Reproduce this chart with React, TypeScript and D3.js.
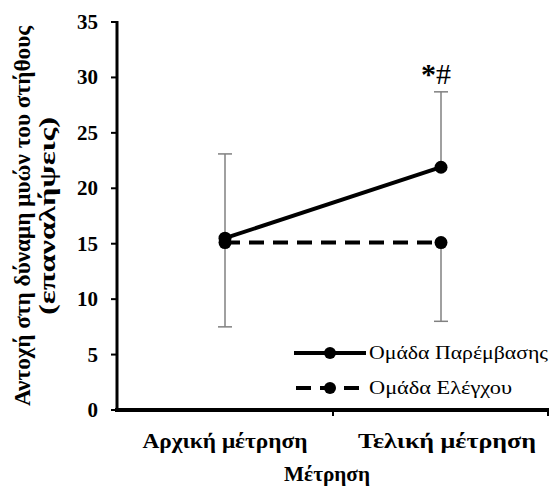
import * as d3 from "d3";

const categories = ["Αρχική μέτρηση", "Τελική μέτρηση"];
const seriesNames = ["Ομάδα Παρέμβασης", "Ομάδα Ελέγχου"];
const interventionValues = [15.5, 21.9];
const controlValues = [15.1, 15.1];
// intervention shows the upper half of its error bar, control the lower half
const interventionErrorUp = [7.6, 6.8];
const controlErrorDown = [7.6, 7.1];
const yTicks = [0, 5, 10, 15, 20, 25, 30, 35];
const yTitleLines = ["Αντοχή στη δύναμη μυών του στήθους", "(επαναλήψεις)"];

export default function App() {
  const width = 551;
  const height = 489;
  const margin = { top: 22, right: 2, bottom: 79, left: 117 };
  const font = "'Times New Roman', 'Liberation Serif', serif";

  const x = d3
    .scaleBand()
    .domain(categories)
    .range([margin.left, width - margin.right]);
  const y = d3
    .scaleLinear()
    .domain([0, 35])
    .range([height - margin.bottom, margin.top]);

  const cx = (c: string) => (x(c) ?? 0) + x.bandwidth() / 2;

  const line = d3
    .line<number>()
    .x((_, i) => cx(categories[i]))
    .y((d) => y(d));

  const series = [
    { name: seriesNames[0], values: interventionValues, dash: "none" },
    { name: seriesNames[1], values: controlValues, dash: "15 9" },
  ];

  // the source image is slightly stretched, so text widths are pinned
  const catWidths = [165, 178];
  const legendWidths = [179, 143];
  const yTitleWidths = [380, 198];

  const y0 = y(0);
  const capW = 7;

  return (
    <svg width={width} height={height} style={{ position: "absolute", left: 0, top: 0 }}>
      <rect width={width} height={height} fill="white" />

      {/* error bars */}
      {categories.map((c, i) => {
        const top = interventionValues[i] + interventionErrorUp[i];
        const bot = controlValues[i] - controlErrorDown[i];
        return (
          <g key={c} stroke="#808080" strokeWidth={1.5}>
            <line x1={cx(c)} x2={cx(c)} y1={y(top)} y2={y(interventionValues[i])} />
            <line x1={cx(c) - capW} x2={cx(c) + capW} y1={y(top)} y2={y(top)} />
            <line x1={cx(c)} x2={cx(c)} y1={y(controlValues[i])} y2={y(bot)} />
            <line x1={cx(c) - capW} x2={cx(c) + capW} y1={y(bot)} y2={y(bot)} />
          </g>
        );
      })}

      {/* series lines */}
      {series.map((s) => (
        <g key={s.name}>
          <path
            d={line(s.values) ?? ""}
            fill="none"
            stroke="black"
            strokeWidth={4}
            strokeDasharray={s.dash}
          />
          {s.values.map((v, i) => (
            <circle key={i} cx={cx(categories[i])} cy={y(v)} r={6.5} fill="black" />
          ))}
        </g>
      ))}

      {/* significance mark */}
      <text
        x={cx(categories[1]) - 5}
        y={y(interventionValues[1] + interventionErrorUp[1]) - 8}
        textAnchor="middle"
        fontFamily={font}
        fontSize={30}
      >
        <tspan fontWeight="bold">*</tspan>#
      </text>

      {/* y axis */}
      <line x1={margin.left} x2={margin.left} y1={y(35) - 1} y2={y0 + 2} stroke="black" strokeWidth={3} />
      {yTicks.map((t) => (
        <g key={t}>
          <line x1={margin.left - 6} x2={margin.left} y1={y(t)} y2={y(t)} stroke="black" strokeWidth={2} />
          <text
            x={margin.left - 19}
            y={y(t)}
            textAnchor="end"
            dominantBaseline="central"
            fontFamily={font}
            fontWeight="bold"
            fontSize={21}
          >
            {t}
          </text>
        </g>
      ))}

      {/* x axis */}
      <line x1={margin.left - 2} x2={width - 2} y1={y0} y2={y0} stroke="black" strokeWidth={4} />
      {[x(categories[1]) ?? 0, width - 3].map((tx, i) => (
        <line key={i} x1={tx} x2={tx} y1={y0} y2={y0 + 6} stroke="black" strokeWidth={2} />
      ))}
      {categories.map((c, i) => (
        <text
          key={c}
          x={cx(c) + (i === 0 ? 0 : 6)}
          y={y0 + 38}
          textAnchor="middle"
          fontFamily={font}
          fontWeight="bold"
          fontSize={22}
          textLength={catWidths[i]}
          lengthAdjust="spacingAndGlyphs"
        >
          {c}
        </text>
      ))}
      <text
        x={(margin.left + width) / 2 - 7}
        y={y0 + 71}
        textAnchor="middle"
        fontFamily={font}
        fontWeight="bold"
        fontSize={22}
        textLength={86}
        lengthAdjust="spacingAndGlyphs"
      >
        Μέτρηση
      </text>

      {/* y axis title */}
      {yTitleLines.map((t, i) => (
        <text
          key={t}
          transform={`translate(${30 + i * 25}, ${(y(35) + y0) / 2}) rotate(-90)`}
          textAnchor="middle"
          fontFamily={font}
          fontWeight="bold"
          fontSize={23}
          textLength={yTitleWidths[i]}
          lengthAdjust="spacingAndGlyphs"
        >
          {t}
        </text>
      ))}

      {/* legend */}
      {series.map((s, i) => {
        const ly = 353 + i * 35;
        return (
          <g key={s.name}>
            <line
              x1={294}
              x2={366}
              y1={ly}
              y2={ly}
              stroke="black"
              strokeWidth={4}
              strokeDasharray={i === 0 ? "none" : "15 9"}
              strokeDashoffset={i === 0 ? 0 : -2}
            />
            <circle cx={330} cy={ly} r={6} fill="black" />
            <text
              x={369}
              y={ly}
              dominantBaseline="central"
              fontFamily={font}
              fontSize={18}
              textLength={legendWidths[i]}
              lengthAdjust="spacingAndGlyphs"
            >
              {s.name}
            </text>
          </g>
        );
      })}
    </svg>
  );
}
